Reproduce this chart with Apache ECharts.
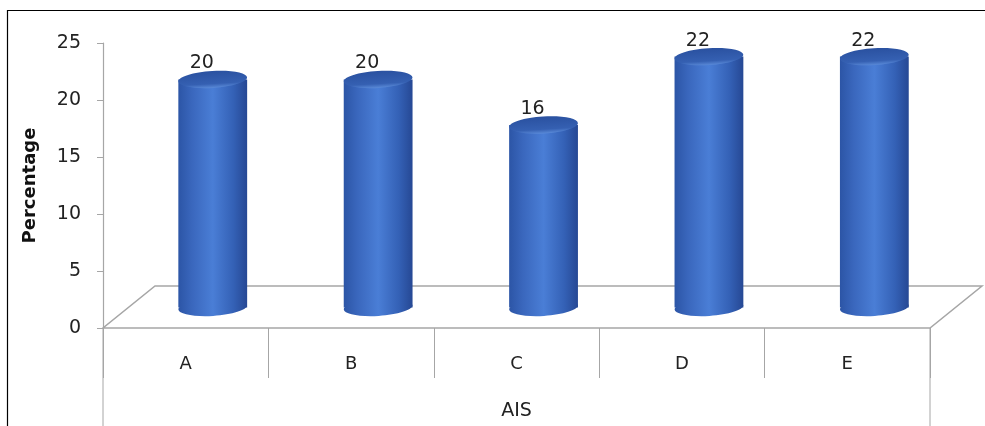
<!DOCTYPE html>
<html>
<head>
<meta charset="utf-8">
<script src="https://cdn.jsdelivr.net/npm/echarts@6/dist/echarts.min.js"></script>
<style>
html,body{margin:0;padding:0;background:#fff;overflow:hidden;}
#chart{width:985px;height:426px;}
</style>
</head>
<body>
<div id="chart"></div>
<script>
// ---- data ----
const categories = ['A', 'B', 'C', 'D', 'E'];
const values = [20, 20, 16, 22, 22];
const yTicks = [0, 5, 10, 15, 20, 25];
const xName = 'AIS';
const yName = 'Percentage';

// ---- style constants ----
const DEPTH_X = 52, DEPTH_Y = 42;
const FONT = '"DejaVu Sans", sans-serif';
const GRID_LINE = '#a6a6a6';

const chart = echarts.init(document.getElementById('chart'));

const bodyGrad = new echarts.graphic.LinearGradient(0, 0, 1, 0, [
  { offset: 0, color: '#2c55a6' },
  { offset: 0.2, color: '#3a67bd' },
  { offset: 0.5, color: '#4a7ed6' },
  { offset: 0.8, color: '#3461b6' },
  { offset: 1, color: '#264894' }
]);
const topGrad = new echarts.graphic.LinearGradient(0, 0, 0, 1, [
  { offset: 0, color: '#2a51a0' },
  { offset: 0.75, color: '#3560b2' },
  { offset: 1, color: '#5a8ad8' }
]);

function renderFloor(params, api) {
  const bw = api.size([1, 0])[0];
  const first = api.coord([0, 0]);
  const last = api.coord([categories.length - 1, 0]);
  const x0 = first[0] - bw / 2, x1 = last[0] + bw / 2, y0 = first[1];
  const H = api.getHeight();
  const st = { stroke: GRID_LINE, lineWidth: 1.5, fill: null };
  return {
    type: 'group',
    silent: true,
    children: [
      { type: 'polygon', shape: { points: [[x0, y0], [x1, y0], [x1 + DEPTH_X, y0 - DEPTH_Y], [x0 + DEPTH_X, y0 - DEPTH_Y]] }, style: st },
      { type: 'line', shape: { x1: x0, y1: y0, x2: x0, y2: H }, style: { stroke: GRID_LINE, lineWidth: 1 } },
      { type: 'line', shape: { x1: x1, y1: y0, x2: x1, y2: H }, style: { stroke: GRID_LINE, lineWidth: 1 } }
    ]
  };
}

function renderCylinder(params, api) {
  const idx = api.value(0);
  const v = api.value(1);
  const bw = api.size([1, 0])[0];
  const base = api.coord([idx, 0]);
  const top = api.coord([idx, v]);
  const cx = base[0] + DEPTH_X * 0.52;
  const by = base[1] - DEPTH_Y * 0.49;
  const ty = top[1] - DEPTH_Y * 0.49;
  const rx = bw * 0.208, ry = 8.5;
  const rot = 0.06;
  return {
    type: 'group',
    children: [
      { type: 'ellipse', shape: { cx: cx, cy: by, rx: rx, ry: ry }, rotation: rot, originX: cx, originY: by, style: { fill: bodyGrad } },
      { type: 'rect', shape: { x: cx - rx, y: ty, width: rx * 2, height: by - ty }, style: { fill: bodyGrad } },
      { type: 'ellipse', shape: { cx: cx, cy: ty, rx: rx, ry: ry }, rotation: rot, originX: cx, originY: ty, style: { fill: topGrad } },
      { type: 'text', x: cx - 11, y: ty - 16, style: { text: String(v), fill: '#222', font: '19px ' + FONT, align: 'center', verticalAlign: 'middle' } }
    ]
  };
}

chart.setOption({
  animation: false,
  backgroundColor: '#fff',
  graphic: [
    { type: 'polyline', shape: { points: [[7.5, 426], [7.5, 10.5], [985, 10.5]] }, style: { stroke: '#000', lineWidth: 1.2, fill: null }, silent: true }
  ],
  grid: { left: 103, right: 55, top: 43, bottom: 96 },
  xAxis: {
    type: 'category',
    data: categories,
    name: xName,
    nameLocation: 'middle',
    nameGap: 74,
    nameTextStyle: { fontSize: 19, color: '#222', fontFamily: FONT },
    axisLine: { show: false },
    axisTick: { show: true, interval: 0, length: 50, lineStyle: { color: GRID_LINE } },
    axisLabel: { margin: 27, fontSize: 18, color: '#222', fontFamily: FONT },
    splitLine: { show: false }
  },
  yAxis: {
    type: 'value',
    min: yTicks[0],
    max: yTicks[yTicks.length - 1],
    interval: yTicks[1] - yTicks[0],
    name: yName,
    nameLocation: 'middle',
    nameGap: 64,
    nameRotate: 90,
    nameTextStyle: { fontSize: 18, fontWeight: 'bold', color: '#111', fontFamily: FONT },
    axisLine: { show: true, lineStyle: { color: GRID_LINE, width: 1.2 } },
    axisTick: { show: true, length: 6, lineStyle: { color: GRID_LINE } },
    axisLabel: { margin: 22, fontSize: 19, color: '#222', fontFamily: FONT },
    splitLine: { show: false }
  },
  series: [
    { type: 'custom', renderItem: renderFloor, data: [[0, 0]], z: 1, silent: true },
    { type: 'custom', renderItem: renderCylinder, data: values.map((v, i) => [i, v]), z: 2,
      encode: { x: 0, y: 1 } }
  ]
});
</script>
</body>
</html>
